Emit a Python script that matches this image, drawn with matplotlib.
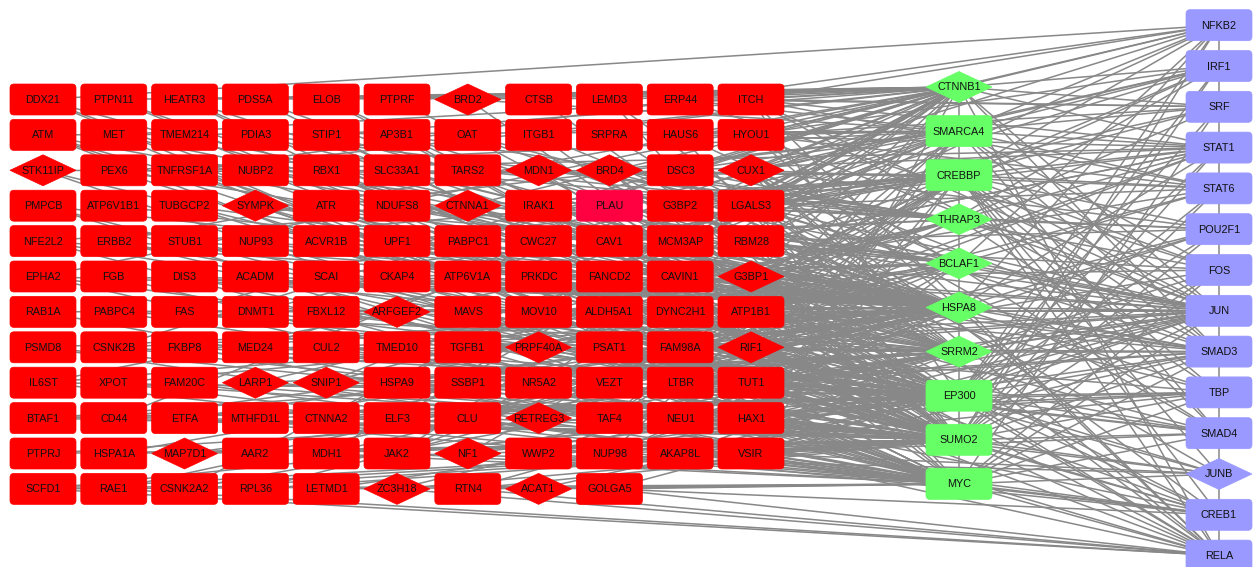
import matplotlib; matplotlib.use("Agg")
import matplotlib.pyplot as plt
from matplotlib.patches import FancyBboxPatch, Polygon
from matplotlib.collections import LineCollection

plt.rcParams["font.family"]=["Liberation Sans","DejaVu Sans"]

RED="#FF0000"; PINK="#FF0040"; GREEN="#66FF66"; BLUE="#9999FF"; EDGE="#888888"; INK="#111111"

# ---- nodes ----
red_rows=[
 "DDX21 PTPN11 HEATR3 PDS5A ELOB PTPRF BRD2 CTSB LEMD3 ERP44 ITCH".split(),
 "ATM MET TMEM214 PDIA3 STIP1 AP3B1 OAT ITGB1 SRPRA HAUS6 HYOU1".split(),
 "STK11IP PEX6 TNFRSF1A NUBP2 RBX1 SLC33A1 TARS2 MDN1 BRD4 DSC3 CUX1".split(),
 "PMPCB ATP6V1B1 TUBGCP2 SYMPK ATR NDUFS8 CTNNA1 IRAK1 PLAU G3BP2 LGALS3".split(),
 "NFE2L2 ERBB2 STUB1 NUP93 ACVR1B UPF1 PABPC1 CWC27 CAV1 MCM3AP RBM28".split(),
 "EPHA2 FGB DIS3 ACADM SCAI CKAP4 ATP6V1A PRKDC FANCD2 CAVIN1 G3BP1".split(),
 "RAB1A PABPC4 FAS DNMT1 FBXL12 ARFGEF2 MAVS MOV10 ALDH5A1 DYNC2H1 ATP1B1".split(),
 "PSMD8 CSNK2B FKBP8 MED24 CUL2 TMED10 TGFB1 PRPF40A PSAT1 FAM98A RIF1".split(),
 "IL6ST XPOT FAM20C LARP1 SNIP1 HSPA9 SSBP1 NR5A2 VEZT LTBR TUT1".split(),
 "BTAF1 CD44 ETFA MTHFD1L CTNNA2 ELF3 CLU RETREG3 TAF4 NEU1 HAX1".split(),
 "PTPRJ HSPA1A MAP7D1 AAR2 MDH1 JAK2 NF1 WWP2 NUP98 AKAP8L VSIR".split(),
 "SCFD1 RAE1 CSNK2A2 RPL36 LETMD1 ZC3H18 RTN4 ACAT1 GOLGA5".split(),
]
red_diamonds="BRD2 STK11IP MDN1 BRD4 CUX1 SYMPK CTNNA1 G3BP1 ARFGEF2 PRPF40A RIF1 LARP1 SNIP1 RETREG3 MAP7D1 NF1 ZC3H18 ACAT1".split()
pink_nodes=["PLAU"]
green_nodes="CTNNB1 SMARCA4 CREBBP THRAP3 BCLAF1 HSPA8 SRRM2 EP300 SUMO2 MYC".split()
green_diamonds="CTNNB1 THRAP3 BCLAF1 HSPA8 SRRM2".split()
blue_nodes="NFKB2 IRF1 SRF STAT1 STAT6 POU2F1 FOS JUN SMAD3 TBP SMAD4 JUNB CREB1 RELA".split()
blue_diamonds=["JUNB"]

# ---- interactions ----
ctnnb1_links="PTPN11 HEATR3 PDS5A ELOB PTPRF BRD2 CTSB LEMD3 ERP44 ITCH MET STIP1 ITGB1 HAUS6 HYOU1 CUX1 DSC3 TNFRSF1A LGALS3 CAV1 ERBB2 EPHA2 CD44 TGFB1 FAS CTNNA1 CTNNA2 PABPC1 MCM3AP RBM28 G3BP1 ATP1B1 ELF3 NR5A2 MDH1 JAK2 CSNK2B CSNK2A2 NEU1 VSIR".split()
smarca4_links="ATM ATR BRD2 BRD4 CUX1 HYOU1 ERP44 SRPRA PEX6 DSC3 MCM3AP RBM28 PRKDC FANCD2 DNMT1 MED24 TUT1 HAX1 SNIP1 AKAP8L NUP98 TAF4".split()
crebbp_links="STK11IP RBX1 MDN1 CTNNA1 IRAK1 PLAU LGALS3 G3BP2 CAV1 UPF1 NFE2L2 STUB1 SCAI CAVIN1 G3BP1 DYNC2H1 ATP1B1 RIF1 FAM98A LTBR HAX1 TAF4 JAK2 NF1 VSIR".split()
thrap3_links="PDIA3 AP3B1 SLC33A1 TARS2 MDN1 BRD4 PABPC1 CWC27 MOV10 PRPF40A SNIP1 LARP1 RETREG3 G3BP2 LGALS3".split()
bclaf1_links="HAUS6 OAT NUBP2 SYMPK NDUFS8 IRAK1 PLAU RBM28 CKAP4 PRKDC CAVIN1 ALDH5A1 DYNC2H1 ATP1B1 PSAT1 FAM98A RIF1 TUT1 HAX1 CLU".split()
hspa8_links=("ATM MET TMEM214 PDIA3 STIP1 AP3B1 OAT ITGB1 HYOU1 PEX6 TNFRSF1A NUBP2 RBX1 SLC33A1 DSC3 PMPCB ATP6V1B1 "
 "TUBGCP2 SYMPK ATR NDUFS8 IRAK1 G3BP2 NFE2L2 ERBB2 STUB1 NUP93 ACVR1B UPF1 CWC27 CAV1 RBM28 EPHA2 FGB DIS3 ACADM "
 "SCAI CKAP4 ATP6V1A PRKDC FANCD2 CAVIN1 RAB1A PABPC4 FAS DNMT1 FBXL12 ARFGEF2 MAVS MOV10 ALDH5A1 PSMD8 CSNK2B FKBP8 "
 "CUL2 TMED10 TGFB1 PSAT1 IL6ST XPOT HSPA9 SSBP1 VEZT LTBR CD44 ETFA MTHFD1L CLU NEU1 HSPA1A AAR2 MDH1 NUP98 WWP2 RAE1 RPL36").split()
srrm2_links=("DDX21 HEATR3 PDS5A SRPRA LEMD3 TARS2 MDN1 BRD4 CUX1 CTNNA1 PABPC1 CWC27 MCM3AP PRKDC DIS3 MOV10 ARFGEF2 "
 "DYNC2H1 PRPF40A MED24 RIF1 FAM98A LARP1 SNIP1 TUT1 SSBP1 NR5A2 RETREG3 TAF4 BTAF1 MAP7D1 AKAP8L ZC3H18 RTN4 CSNK2A2 "
 "NF1 PABPC4 UPF1 G3BP1 G3BP2 HSPA9 NUP93").split()
ep300_links=("ATM PTPN11 ELOB PTPRF CTSB ITCH STK11IP TNFRSF1A RBX1 SYMPK PLAU NFE2L2 ERBB2 STUB1 ACVR1B CAV1 EPHA2 SCAI "
 "CKAP4 FANCD2 CAVIN1 G3BP1 FAS DNMT1 FBXL12 MAVS ATP1B1 CSNK2B FKBP8 MED24 CUL2 TGFB1 PRPF40A IL6ST SNIP1 VEZT LTBR "
 "TUT1 BTAF1 CD44 MTHFD1L CTNNA2 ELF3 TAF4 HAX1 PTPRJ JAK2 NF1 WWP2 AKAP8L SCFD1 LETMD1 ACAT1 GOLGA5").split()
sumo2_links=("DDX21 PTPN11 HEATR3 PDS5A ELOB BRD2 ATM TMEM214 STIP1 AP3B1 ITGB1 HAUS6 PEX6 NUBP2 MDN1 BRD4 CUX1 PMPCB "
 "TUBGCP2 SYMPK ATR IRAK1 G3BP2 LGALS3 ERBB2 NUP93 PABPC1 CWC27 MCM3AP RBM28 DIS3 ATP6V1A PRKDC FANCD2 G3BP1 PABPC4 "
 "ARFGEF2 MAVS MOV10 DYNC2H1 PSMD8 CSNK2B CUL2 TMED10 PRPF40A PSAT1 RIF1 XPOT FAM20C LARP1 SNIP1 HSPA9 SSBP1 VEZT TUT1 "
 "BTAF1 CD44 ETFA CTNNA2 CLU RETREG3 NEU1 PTPRJ HSPA1A MAP7D1 AAR2 NF1 NUP98 AKAP8L SCFD1 RAE1 CSNK2A2 RPL36 ZC3H18 RTN4").split()
myc_links=("DDX21 ATM MET HEATR3 LEMD3 STK11IP PMPCB BRD4 PLAU NFE2L2 CAV1 EPHA2 FGB ACADM PRKDC RAB1A DNMT1 MAVS ALDH5A1 "
 "PSMD8 FKBP8 TGFB1 PSAT1 IL6ST XPOT FAM20C HSPA9 NR5A2 LTBR ETFA MTHFD1L CLU HAX1 MDH1 JAK2 WWP2 VSIR SCFD1 LETMD1 "
 "RTN4 GOLGA5 ACAT1").split()

nfkb2_links="DDX21 ITCH HYOU1 CUX1 RBM28 CTNNB1 SMARCA4 CREBBP BCLAF1 HSPA8 EP300 SUMO2 TNFRSF1A".split()
irf1_links="CUX1 LGALS3 G3BP1 PLAU CTNNB1 SMARCA4 CREBBP EP300 SUMO2 TAF4 HYOU1".split()
srf_links="ITCH ERP44 HYOU1 CAV1 CTNNB1 SMARCA4 CREBBP THRAP3 EP300 MYC".split()
stat1_links="ITCH HAUS6 DSC3 LGALS3 RBM28 G3BP1 ATP1B1 CTNNB1 SMARCA4 CREBBP EP300 SUMO2 HSPA8 JAK2 IL6ST TNFRSF1A".split()
stat6_links="ITCH HYOU1 CUX1 LGALS3 CAVIN1 ATP1B1 SMARCA4 CREBBP BCLAF1 EP300 SUMO2".split()
pou2f1_links="CUX1 G3BP2 RBM28 RIF1 TUT1 CREBBP THRAP3 EP300 SUMO2 HSPA8".split()
fos_links="ERP44 DSC3 G3BP1 MCM3AP RIF1 SMARCA4 CREBBP EP300 SUMO2 MYC SRRM2".split()
jun_links=("ITCH HYOU1 LGALS3 CAV1 RBM28 G3BP1 ATP1B1 RIF1 TUT1 HAX1 VSIR CTNNB1 SMARCA4 CREBBP THRAP3 BCLAF1 HSPA8 "
 "SRRM2 EP300 SUMO2 MYC FAM98A DYNC2H1 CAVIN1 LTBR NEU1 AKAP8L MAVS TGFB1 PLAU G3BP2").split()
smad3_links="ITCH CUX1 LGALS3 CAV1 CAVIN1 ATP1B1 TUT1 HAX1 VSIR CTNNB1 SMARCA4 CREBBP HSPA8 SRRM2 EP300 SUMO2 MYC TGFB1 ACVR1B LTBR".split()
tbp_links="RBM28 G3BP1 FAM98A TAF4 BTAF1 NUP98 HAX1 CREBBP EP300 SUMO2 MYC THRAP3".split()
smad4_links="HYOU1 CUX1 ATP1B1 RIF1 TUT1 VSIR SMARCA4 CREBBP EP300 SUMO2 MYC TGFB1".split()
junb_links="LGALS3 RIF1 HAX1 VSIR CREBBP EP300 SUMO2 MYC JAK2".split()
creb1_links="CUX1 G3BP1 RIF1 TUT1 HAX1 VSIR CREBBP EP300 SUMO2 MYC GOLGA5 AKAP8L NUP98".split()
rela_links="ITCH CUX1 LGALS3 G3BP1 VSIR HAX1 SCFD1 RAE1 ZC3H18 RTN4 GOLGA5 CTNNB1 CREBBP HSPA8 EP300 SUMO2 MYC TNFRSF1A IRAK1".split()

hub_links=[("CTNNB1",ctnnb1_links),("SMARCA4",smarca4_links),("CREBBP",crebbp_links),("THRAP3",thrap3_links),
 ("BCLAF1",bclaf1_links),("HSPA8",hspa8_links),("SRRM2",srrm2_links),("EP300",ep300_links),("SUMO2",sumo2_links),
 ("MYC",myc_links),("NFKB2",nfkb2_links),("IRF1",irf1_links),("SRF",srf_links),("STAT1",stat1_links),
 ("STAT6",stat6_links),("POU2F1",pou2f1_links),("FOS",fos_links),("JUN",jun_links),("SMAD3",smad3_links),
 ("TBP",tbp_links),("SMAD4",smad4_links),("JUNB",junb_links),("CREB1",creb1_links),("RELA",rela_links)]

# ---- layout (pixel space) ----
W,H=66,31
pos={}
for r,row in enumerate(red_rows):
    for c,n in enumerate(row): pos[n]=(43+c*70.8,99.5+r*35.4)
for i,n in enumerate(green_nodes): pos[n]=(959,87+i*44.1)
for i,n in enumerate(blue_nodes): pos[n]=(1219,25.2+i*40.8)

fig=plt.figure(figsize=(12.53,5.67),dpi=100)
ax=fig.add_axes([0,0,1,1]); ax.set_xlim(0,1253); ax.set_ylim(567,0); ax.axis("off")

segs=[]
for hub,links in hub_links:
    for n in links:
        if n in pos: segs.append([pos[hub],pos[n]])
for chain in (green_nodes,blue_nodes):
    for a,b in zip(chain[:-1],chain[1:]): segs.append([pos[a],pos[b]])
ax.add_collection(LineCollection(segs,colors=EDGE,linewidths=1.1,zorder=1))

def node(n,color,diamond):
    x,y=pos[n]
    if diamond:
        ax.add_patch(Polygon([(x-W/2,y),(x,y-H/2),(x+W/2,y),(x,y+H/2)],closed=True,fc=color,ec=color,lw=0.5,zorder=2))
    else:
        ax.add_patch(FancyBboxPatch((x-W/2,y-H/2),W,H,boxstyle="round,pad=0,rounding_size=4",fc=color,ec=color,lw=0.5,zorder=2))
    ax.text(x,y+0.5,n,fontsize=7.8,color=INK,ha="center",va="center",zorder=3)

for row in red_rows:
    for n in row: node(n,PINK if n in pink_nodes else RED,n in red_diamonds)
for n in green_nodes: node(n,GREEN,n in green_diamonds)
for n in blue_nodes: node(n,BLUE,n in blue_diamonds)

fig.savefig("out.png",dpi=100,facecolor="white")
